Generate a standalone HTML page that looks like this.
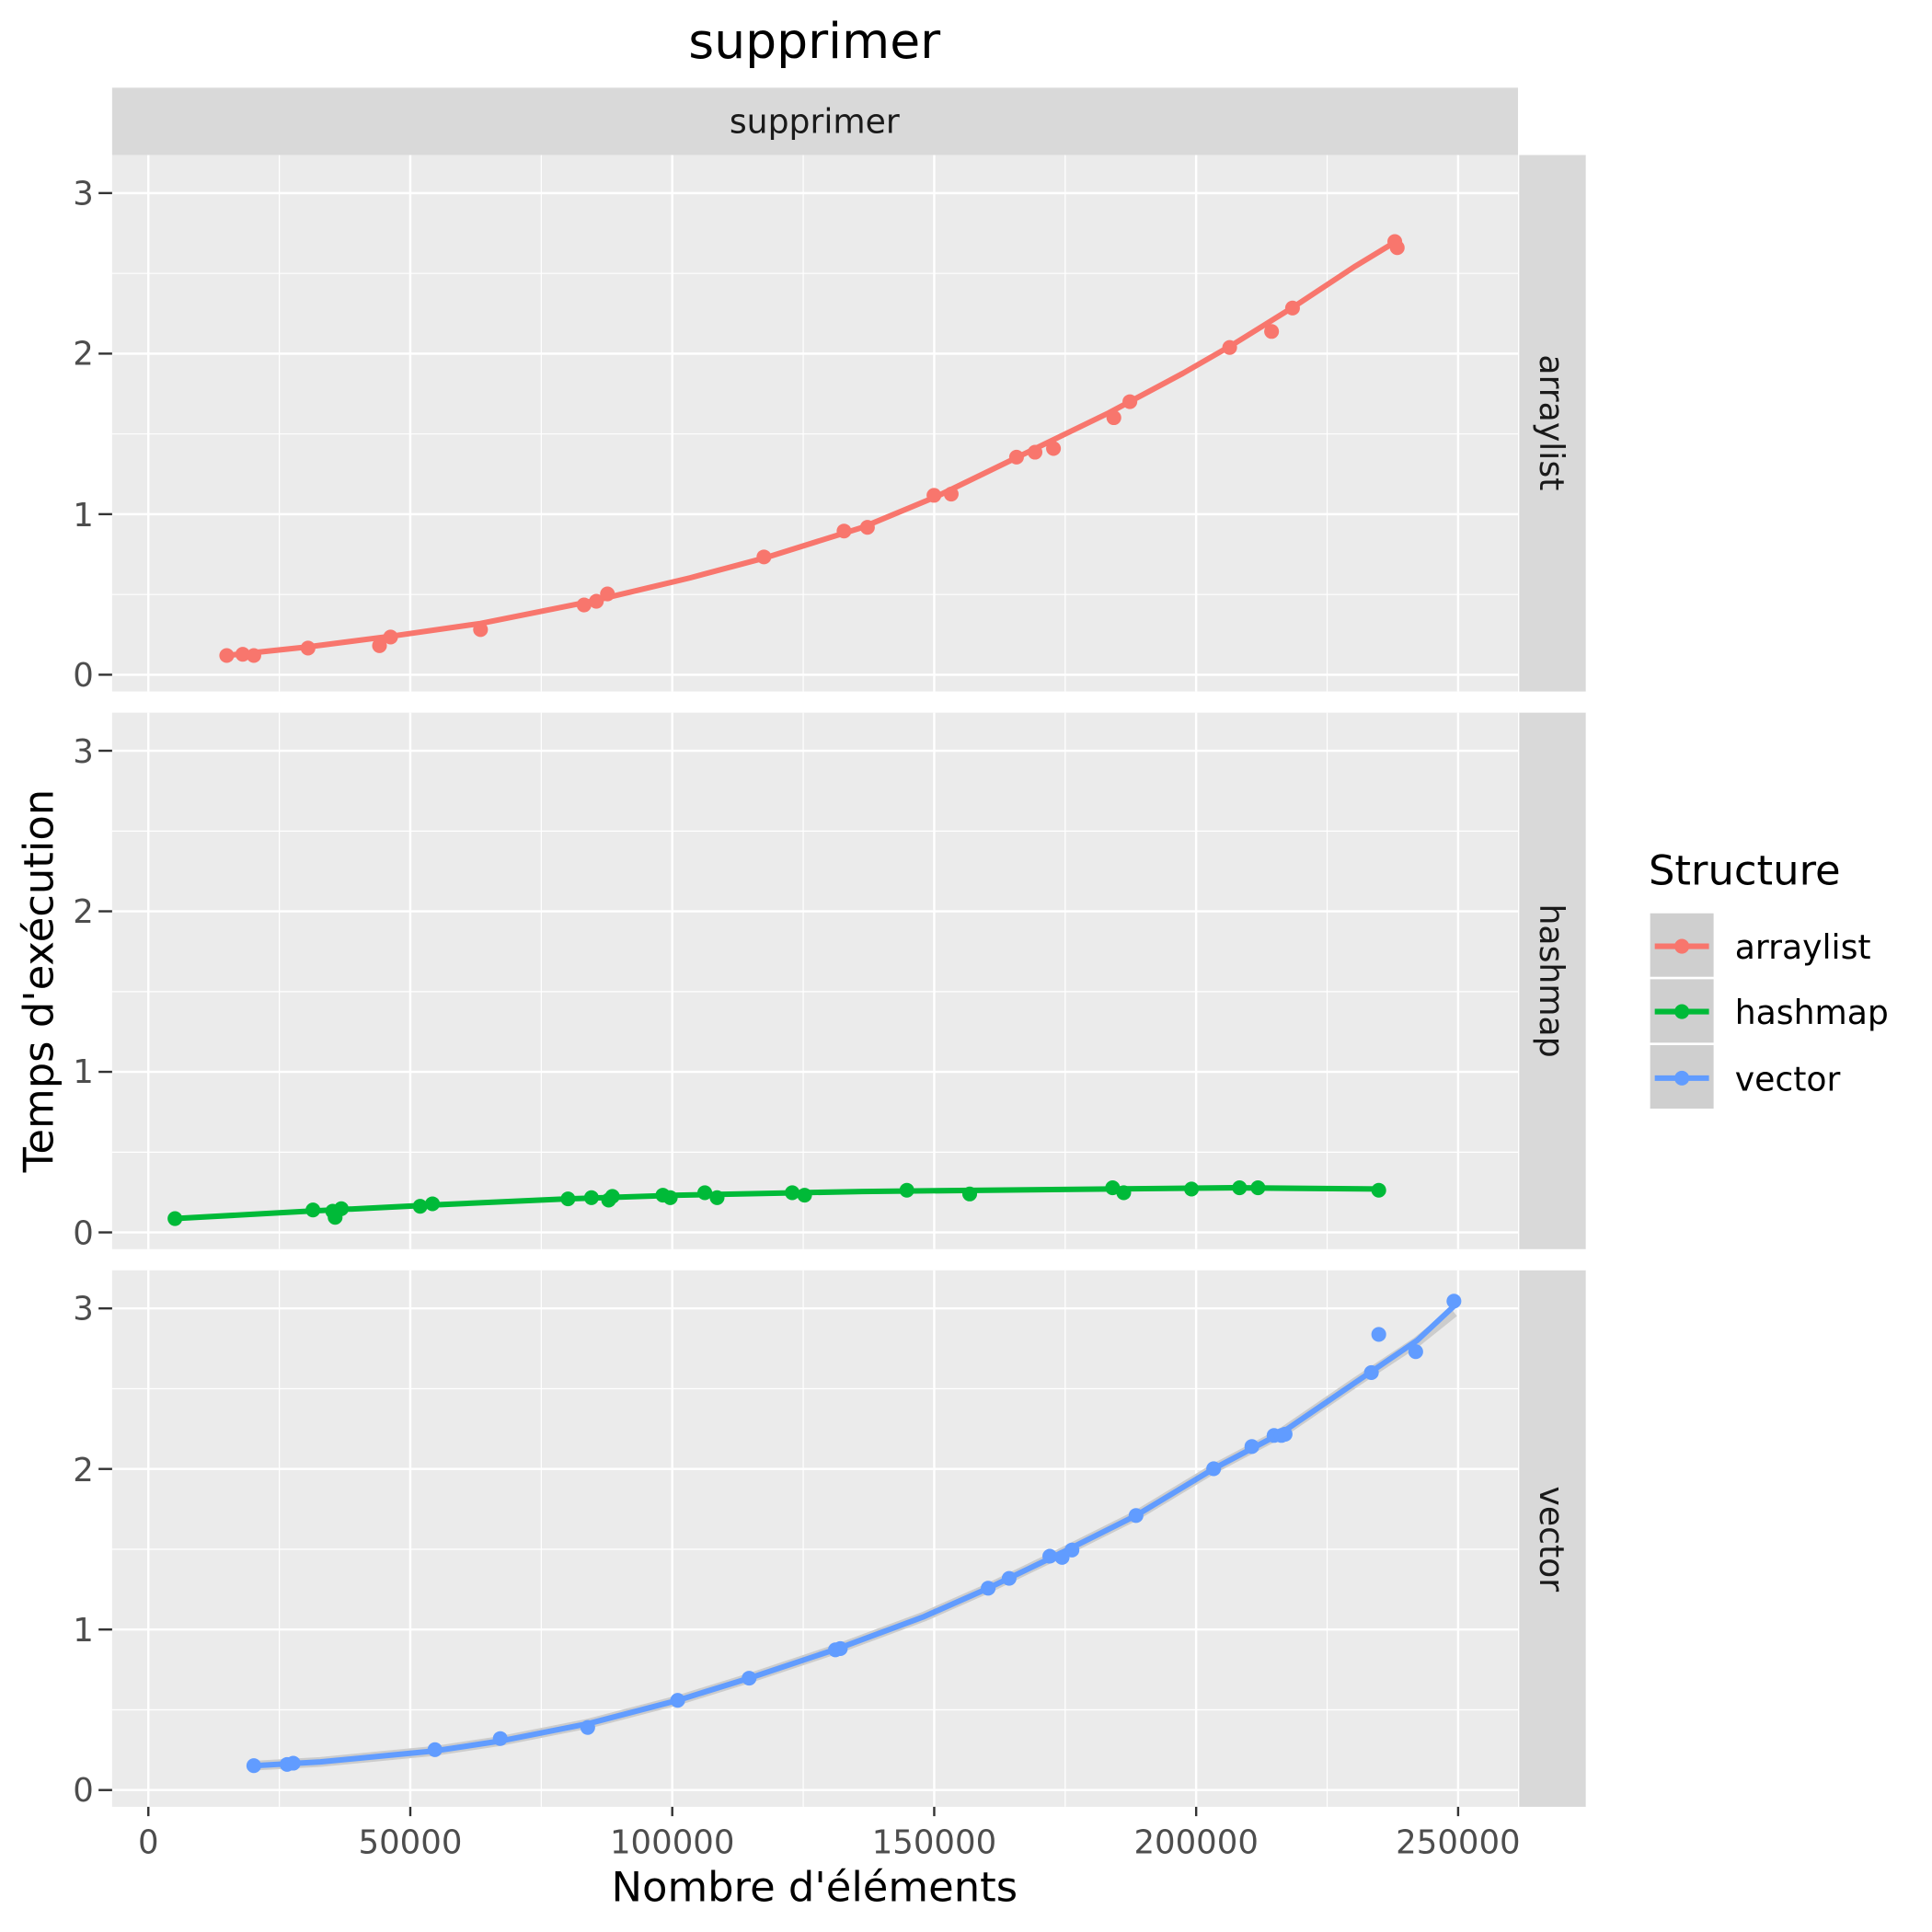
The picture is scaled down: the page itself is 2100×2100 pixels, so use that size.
<!DOCTYPE html>
<html><head><meta charset="utf-8"><style>html,body{margin:0;padding:0;background:#fff}svg{display:block}</style></head>
<body>
<svg xmlns="http://www.w3.org/2000/svg" width="2100" height="2100" viewBox="0 0 1568 1568" font-family="'DejaVu Sans', 'Liberation Sans', sans-serif">
<defs>
<g id="pg">
<rect x="91" y="0" width="1141" height="435.4" fill="#EBEBEB"/>
<g stroke="#fff" stroke-width="0.9">
<line x1="91" x2="1232" y1="356.7" y2="356.7"/><line x1="91" x2="1232" y1="226.4" y2="226.4"/><line x1="91" x2="1232" y1="96.1" y2="96.1"/>
<line x1="226.7" x2="226.7" y1="0" y2="435.4"/><line x1="439.3" x2="439.3" y1="0" y2="435.4"/><line x1="651.9" x2="651.9" y1="0" y2="435.4"/><line x1="864.5" x2="864.5" y1="0" y2="435.4"/><line x1="1077.1" x2="1077.1" y1="0" y2="435.4"/>
</g>
<g stroke="#fff" stroke-width="1.8">
<line x1="91" x2="1232" y1="421.8" y2="421.8"/><line x1="91" x2="1232" y1="291.5" y2="291.5"/><line x1="91" x2="1232" y1="161.2" y2="161.2"/><line x1="91" x2="1232" y1="30.9" y2="30.9"/>
<line x1="120.4" x2="120.4" y1="0" y2="435.4"/><line x1="333" x2="333" y1="0" y2="435.4"/><line x1="545.6" x2="545.6" y1="0" y2="435.4"/><line x1="758.2" x2="758.2" y1="0" y2="435.4"/><line x1="970.8" x2="970.8" y1="0" y2="435.4"/><line x1="1183.4" x2="1183.4" y1="0" y2="435.4"/>
</g>
<g stroke="#333" stroke-width="1.8">
<line x1="80" x2="91" y1="421.8" y2="421.8"/><line x1="80" x2="91" y1="291.5" y2="291.5"/><line x1="80" x2="91" y1="161.2" y2="161.2"/><line x1="80" x2="91" y1="30.9" y2="30.9"/>
</g>
<rect x="1233" y="0" width="54" height="435.4" fill="#D9D9D9"/>
</g>
</defs>
<rect width="1568" height="1568" fill="#fff"/>
<text x="661" y="47" font-size="40" text-anchor="middle" fill="#000">supprimer</text>
<rect x="91" y="71.2" width="1141" height="54.6" fill="#D9D9D9"/>
<text x="661" y="108" font-size="27" text-anchor="middle" fill="#1A1A1A">supprimer</text>

<use href="#pg" y="125.8"/>
<use href="#pg" y="578.4"/>
<use href="#pg" y="1031"/>

<g font-size="26.5" fill="#4D4D4D" text-anchor="end">
<text x="76" y="557">0</text><text x="76" y="427">1</text><text x="76" y="296">2</text><text x="76" y="166">3</text>
<text x="76" y="1010">0</text><text x="76" y="879">1</text><text x="76" y="749">2</text><text x="76" y="619">3</text>
<text x="76" y="1462">0</text><text x="76" y="1332">1</text><text x="76" y="1202">2</text><text x="76" y="1071">3</text>
</g>
<g stroke="#333" stroke-width="1.8">
<line x1="120.4" x2="120.4" y1="1466.4" y2="1474"/><line x1="333" x2="333" y1="1466.4" y2="1474"/><line x1="545.6" x2="545.6" y1="1466.4" y2="1474"/><line x1="758.2" x2="758.2" y1="1466.4" y2="1474"/><line x1="970.8" x2="970.8" y1="1466.4" y2="1474"/><line x1="1183.4" x2="1183.4" y1="1466.4" y2="1474"/>
</g>
<g font-size="26.5" fill="#4D4D4D" text-anchor="middle">
<text x="120.4" y="1504">0</text><text x="333" y="1504">50000</text><text x="545.6" y="1504">100000</text><text x="758.2" y="1504">150000</text><text x="970.8" y="1504">200000</text><text x="1183.4" y="1504">250000</text>
</g>
<g font-size="27" fill="#1A1A1A">
<text transform="translate(1250,343) rotate(90)" text-anchor="middle">arraylist</text>
<text transform="translate(1250,796) rotate(90)" text-anchor="middle">hashmap</text>
<text transform="translate(1250,1249) rotate(90)" text-anchor="middle">vector</text>
</g>
<text x="661" y="1543" font-size="33.5" text-anchor="middle" fill="#000">Nombre d'éléments</text>
<text transform="translate(43,796) rotate(-90)" font-size="33.5" text-anchor="middle" fill="#000">Temps d'exécution</text>

<!-- arraylist -->
<polyline fill="none" stroke="#F8766D" stroke-width="4.5" stroke-linejoin="round" points="184,532 250,525 320,516 390,506 480,488 560,469 620,453 700,428 760,403 830,369 900,335 960,303 1000,280 1050,249 1100,216 1133,196"/>
<g fill="#F8766D">
<circle cx="184" cy="532" r="6"/><circle cx="197" cy="531" r="6"/><circle cx="206" cy="532" r="6"/><circle cx="250" cy="526" r="6"/><circle cx="308" cy="524" r="6"/><circle cx="317" cy="517" r="6"/><circle cx="390" cy="511" r="6"/><circle cx="474" cy="491" r="6"/><circle cx="484" cy="488" r="6"/><circle cx="493" cy="482" r="6"/><circle cx="620" cy="452" r="6"/><circle cx="685" cy="431" r="6"/><circle cx="704" cy="428" r="6"/><circle cx="758" cy="402" r="6"/><circle cx="772" cy="401" r="6"/><circle cx="825" cy="371" r="6"/><circle cx="840" cy="367" r="6"/><circle cx="855" cy="364" r="6"/><circle cx="904" cy="339" r="6"/><circle cx="917" cy="326" r="6"/><circle cx="998" cy="282" r="6"/><circle cx="1032" cy="269" r="6"/><circle cx="1049" cy="250" r="6"/><circle cx="1132" cy="196" r="6"/><circle cx="1134" cy="201" r="6"/>
</g>
<!-- hashmap -->
<polyline fill="none" stroke="#00BA38" stroke-width="4.5" stroke-linejoin="round" points="142,989 250,983 350,978 460,973 550,970 700,967 900,965 1000,964 1119,965"/>
<g fill="#00BA38">
<circle cx="142" cy="989" r="6"/><circle cx="254" cy="982" r="6"/><circle cx="270" cy="983" r="6"/><circle cx="272" cy="988" r="6"/><circle cx="277" cy="981" r="6"/><circle cx="341" cy="979" r="6"/><circle cx="351" cy="977" r="6"/><circle cx="461" cy="973" r="6"/><circle cx="480" cy="972" r="6"/><circle cx="494" cy="974" r="6"/><circle cx="497" cy="971" r="6"/><circle cx="538" cy="970" r="6"/><circle cx="544" cy="972" r="6"/><circle cx="572" cy="968" r="6"/><circle cx="582" cy="972" r="6"/><circle cx="643" cy="968" r="6"/><circle cx="653" cy="970" r="6"/><circle cx="736" cy="966" r="6"/><circle cx="787" cy="969" r="6"/><circle cx="903" cy="964" r="6"/><circle cx="912" cy="968" r="6"/><circle cx="967" cy="965" r="6"/><circle cx="1006" cy="964" r="6"/><circle cx="1021" cy="964" r="6"/><circle cx="1119" cy="966" r="6"/>
</g>
<!-- vector -->
<polyline fill="none" stroke="#CCCCCC" stroke-width="8" stroke-linejoin="round" points="206,1433 260,1430 353,1421 406,1413 477,1399 550,1380 608,1362 680,1338 750,1312 802,1289 860,1261 922,1230 985,1192 1040,1163 1100,1122 1150,1089 1180,1065"/>
<polyline fill="none" stroke="#619CFF" stroke-width="4.5" stroke-linejoin="round" points="206,1433 260,1430 353,1421 406,1413 477,1399 550,1380 608,1362 680,1338 750,1312 802,1289 860,1261 922,1230 985,1192 1040,1163 1100,1122 1150,1088 1180,1060"/>
<g fill="#619CFF">
<circle cx="206" cy="1433" r="6"/><circle cx="233" cy="1432" r="6"/><circle cx="238" cy="1431" r="6"/><circle cx="353" cy="1420" r="6"/><circle cx="406" cy="1411" r="6"/><circle cx="477" cy="1402" r="6"/><circle cx="550" cy="1380" r="6"/><circle cx="608" cy="1362" r="6"/><circle cx="678" cy="1339" r="6"/><circle cx="682" cy="1338" r="6"/><circle cx="802" cy="1289" r="6"/><circle cx="819" cy="1281" r="6"/><circle cx="852" cy="1263" r="6"/><circle cx="862" cy="1264" r="6"/><circle cx="870" cy="1258" r="6"/><circle cx="922" cy="1230" r="6"/><circle cx="985" cy="1192" r="6"/><circle cx="1016" cy="1174" r="6"/><circle cx="1034" cy="1165" r="6"/><circle cx="1040" cy="1165" r="6"/><circle cx="1043" cy="1164" r="6"/><circle cx="1113" cy="1114" r="6"/><circle cx="1119" cy="1083" r="6"/><circle cx="1149" cy="1097" r="6"/><circle cx="1180" cy="1056" r="6"/>
</g>

<!-- legend -->
<text x="1338" y="718" font-size="33.5" fill="#000">Structure</text>
<g stroke="#fff" stroke-width="1.5" fill="#CFCFCF">
<rect x="1338.5" y="740.5" width="53" height="53"/>
<rect x="1338.5" y="794" width="53" height="53"/>
<rect x="1338.5" y="847.5" width="53" height="53"/>
</g>
<line x1="1343" x2="1387" y1="768" y2="768" stroke="#F8766D" stroke-width="4.5"/><circle cx="1365" cy="768" r="6" fill="#F8766D"/>
<line x1="1343" x2="1387" y1="821" y2="821" stroke="#00BA38" stroke-width="4.5"/><circle cx="1365" cy="821" r="6" fill="#00BA38"/>
<line x1="1343" x2="1387" y1="875" y2="875" stroke="#619CFF" stroke-width="4.5"/><circle cx="1365" cy="875" r="6" fill="#619CFF"/>
<g font-size="27" fill="#000">
<text x="1408" y="778">arraylist</text>
<text x="1408" y="831">hashmap</text>
<text x="1408" y="885">vector</text>
</g>
</svg>
</body></html>
